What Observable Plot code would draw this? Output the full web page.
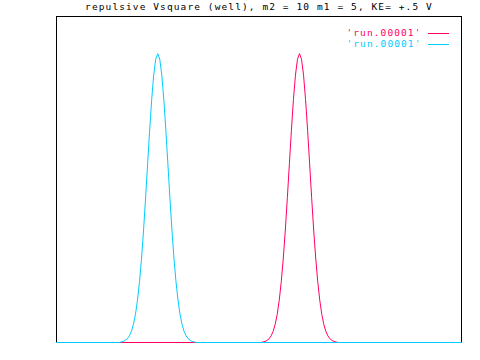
<!DOCTYPE html>
<html>
<head>
<meta charset="utf-8">
<script src="https://cdn.jsdelivr.net/npm/d3@7"></script>
<script src="https://cdn.jsdelivr.net/npm/@observablehq/plot@0.6"></script>
<style>
  html, body { margin: 0; padding: 0; background: #fff; }
  #chart svg { display: block; }
  #chart svg text { letter-spacing: 1.1px; }
</style>
</head>
<body>
<div id="chart"></div>
<script>
const titleText = "repulsive Vsquare (well), m2 = 10 m1 = 5, KE= +.5 V";
const seriesNames = ["'run.00001'", "'run.00001'"];
const seriesColors = ["#ff0066", "#00ccff"];

const magentaX = [0,101,102,103,104,105,106,107,108,109,110,111,112,113,114,115,116,117,118,119,120,121,122,123,124,125,126,127,128,129,130,131,132,133,134,135,136,137,138,139,200];
const magentaY = [0,0,0.0017,0.0034,0.0065,0.0117,0.0205,0.0344,0.0557,0.0866,0.130,0.187,0.259,0.345,0.444,0.548,0.651,0.745,0.820,0.869,0.886,0.869,0.820,0.745,0.651,0.548,0.444,0.345,0.259,0.187,0.130,0.0866,0.0557,0.0344,0.0205,0.0117,0.0065,0.0034,0.0017,0,0];

const cyanX = [0,31,32,33,34,35,36,37,38,39,40,41,42,43,44,45,46,47,48,49,50,51,52,53,54,55,56,57,58,59,60,61,62,63,64,65,66,67,68,69,200];
const cyanY = [0,0,0.0017,0.0034,0.0065,0.0117,0.0205,0.0344,0.0557,0.0866,0.130,0.187,0.259,0.345,0.444,0.548,0.651,0.745,0.820,0.869,0.886,0.869,0.820,0.745,0.651,0.548,0.444,0.345,0.259,0.187,0.130,0.0866,0.0557,0.0344,0.0205,0.0117,0.0065,0.0034,0.0017,0,0];

const magenta = magentaX.map((x, i) => ({x, y: magentaY[i]}));
const cyan = cyanX.map((x, i) => ({x, y: cyanY[i]}));

const font = "'DejaVu Sans Mono', 'Liberation Mono', monospace";
const fs = 9.5;

const plot = Plot.plot({
  width: 480,
  height: 360,
  marginLeft: 56,
  marginRight: 19,
  marginTop: 16,
  marginBottom: 18,
  style: {fontFamily: font, fontSize: fs + "px", background: "#fff"},
  x: {domain: [0, 200], axis: null},
  y: {domain: [0, 1], axis: null},
  marks: [
    Plot.frame({stroke: "black", strokeWidth: 1}),
    Plot.line(magenta, {x: "x", y: "y", stroke: seriesColors[0], strokeWidth: 1}),
    Plot.line(cyan, {x: "x", y: "y", stroke: seriesColors[1], strokeWidth: 1}),
    Plot.text([titleText], {text: d => d, frameAnchor: "top", dy: -10, lineAnchor: "middle", fill: "black", fontSize: fs}),
    Plot.text([seriesNames[0]], {text: d => d, frameAnchor: "top-right", textAnchor: "end", lineAnchor: "middle", dx: -40, dy: 16.5, fill: seriesColors[0], fontSize: fs}),
    Plot.text([seriesNames[1]], {text: d => d, frameAnchor: "top-right", textAnchor: "end", lineAnchor: "middle", dx: -40, dy: 27.5, fill: seriesColors[1], fontSize: fs})
  ]
});

// legend sample lines, placed relative to the frame
const svgSel = d3.select(plot);
const xr = plot.scale("x").range;
const yr = plot.scale("y").range;
const frameRight = xr[1], frameTop = yr[1];
[0, 1].forEach(i => {
  const yy = Math.round(frameTop + 16.5 + 11 * i) + 0.5;
  svgSel.append("line")
    .attr("x1", frameRight - 33).attr("x2", frameRight - 12)
    .attr("y1", yy).attr("y2", yy)
    .attr("stroke", seriesColors[i]).attr("stroke-width", 1);
});

document.getElementById("chart").appendChild(plot);
</script>
</body>
</html>
